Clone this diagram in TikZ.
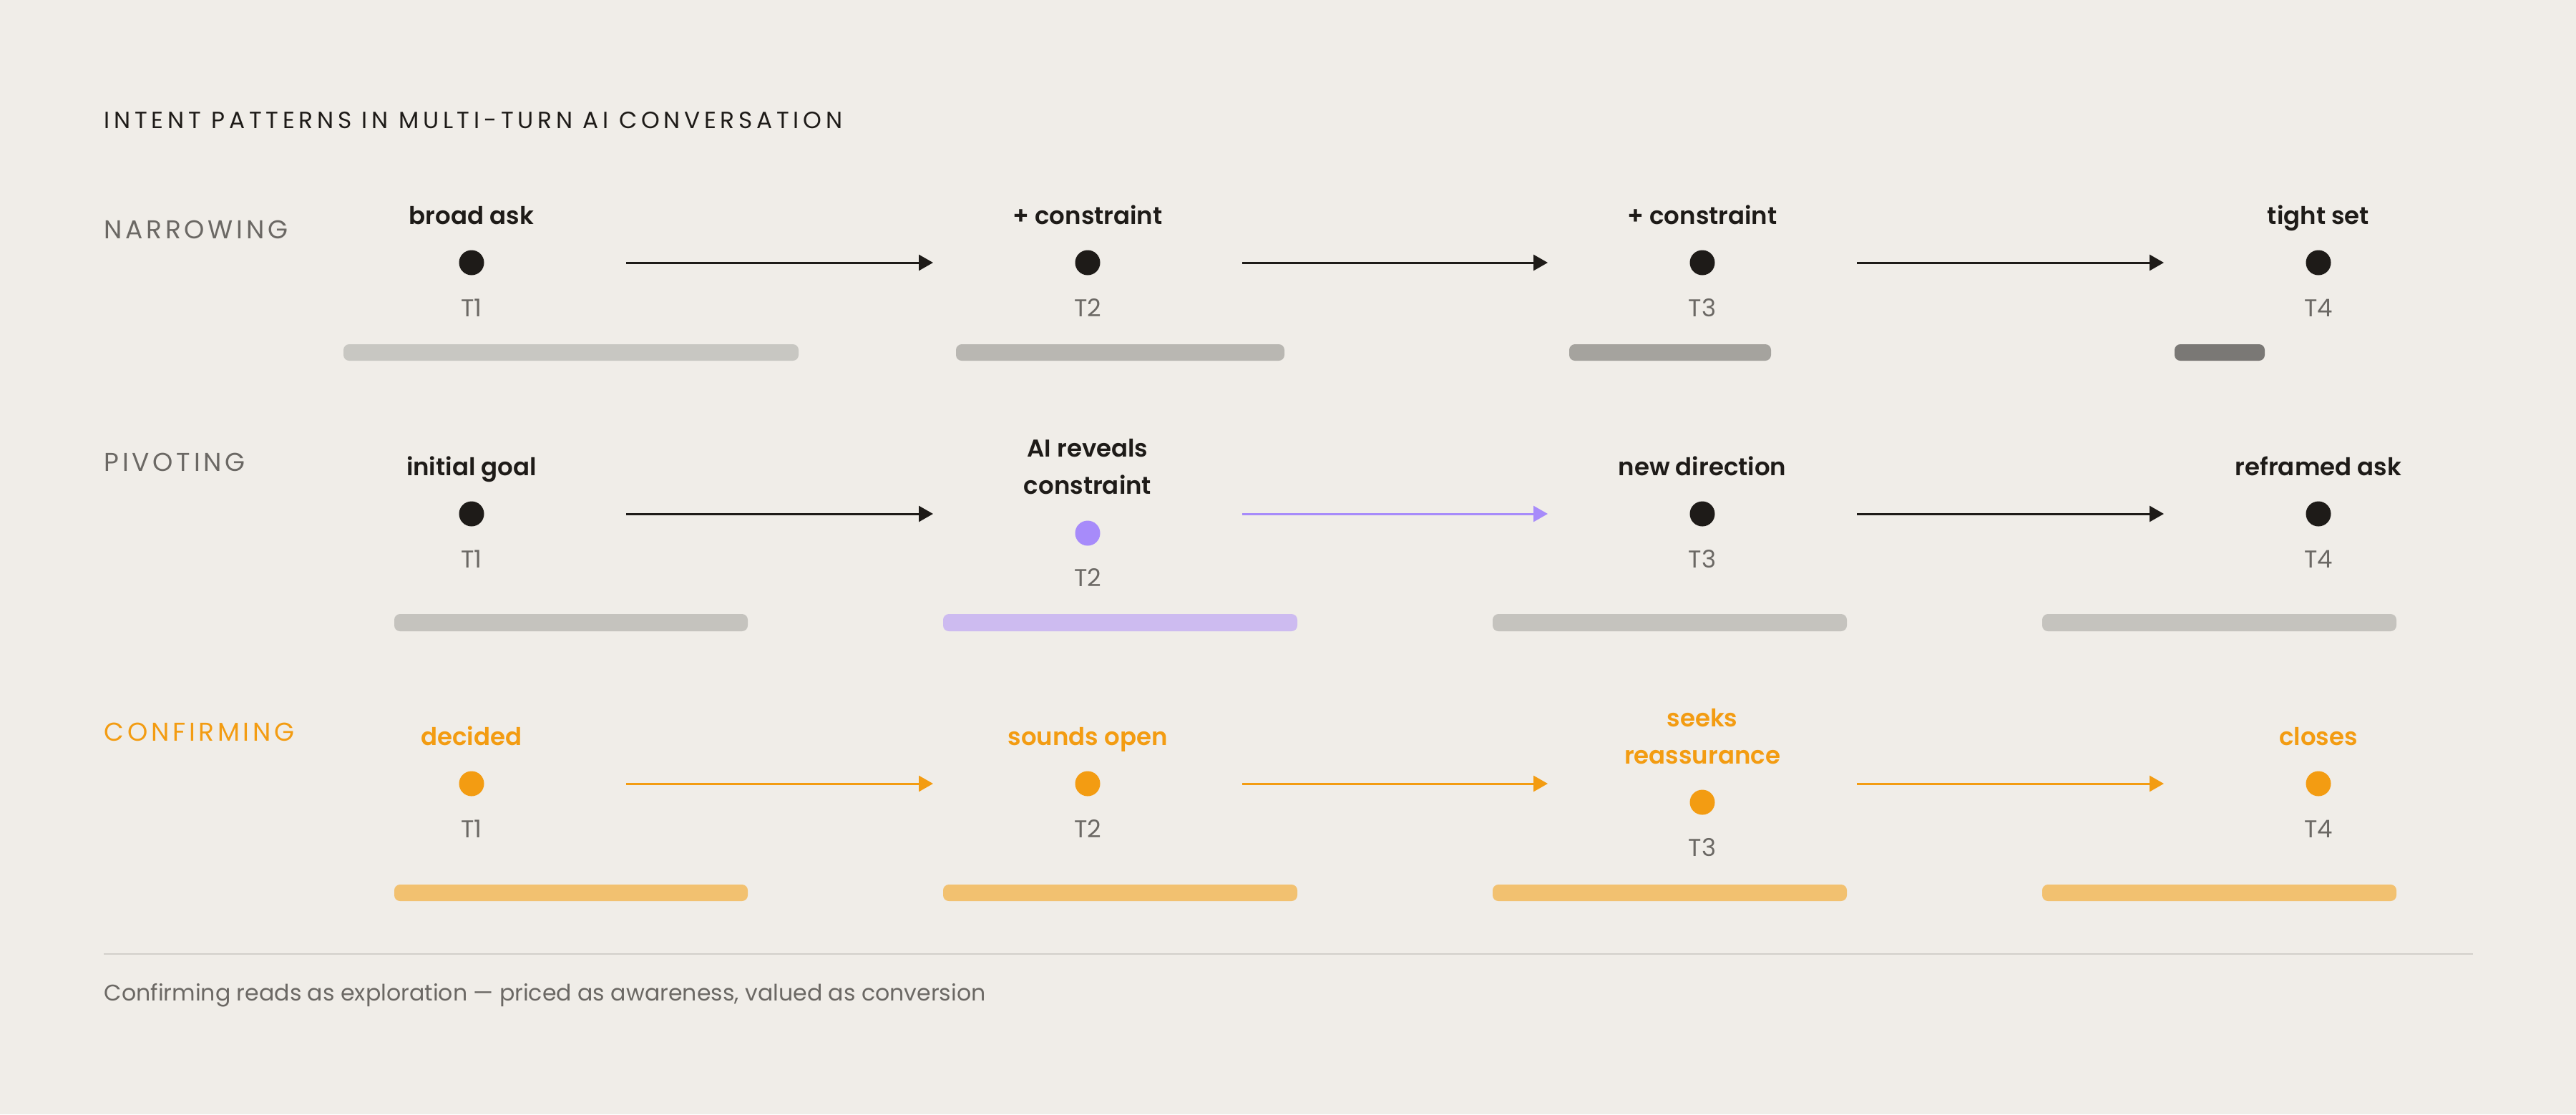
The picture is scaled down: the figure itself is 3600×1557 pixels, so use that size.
\documentclass[tikz,border=0pt]{standalone}
\usepackage{fontspec}
\setmainfont{Poppins}
\newfontfamily\semib{Poppins SemiBold}
\newfontfamily\trackf{Poppins}[LetterSpace=17.5]
\newfontfamily\rowf{Poppins}[LetterSpace=13]
\usetikzlibrary{arrows.meta}
\definecolor{bg}{HTML}{F0EDE8}
\definecolor{ink}{HTML}{1E1B18}
\definecolor{graytxt}{HTML}{6B6864}
\definecolor{orng}{HTML}{F39C12}
\definecolor{orngbar}{HTML}{F2C170}
\definecolor{purp}{HTML}{A78BFA}
\definecolor{purpbar}{HTML}{CDBBF0}
\definecolor{rulec}{HTML}{D2CFCA}
\definecolor{barA}{HTML}{C8C7C2}
\definecolor{barB}{HTML}{B9B7B2}
\definecolor{barC}{HTML}{A5A39E}
\definecolor{barD}{HTML}{7A7875}
\definecolor{barG}{HTML}{C5C3BE}
\begin{document}
\begin{tikzpicture}[x=0.25pt,y=-0.25pt,
  dot/.style={circle, fill=#1, inner sep=0pt, minimum size=8.75pt},
  lbl/.style={anchor=base, font=\semib\fontsize{8.5}{13}\selectfont, text=#1, align=center, inner sep=0pt},
  tlbl/.style={anchor=base, font=\fontsize{8.5}{11}\selectfont, text=graytxt, inner sep=0pt},
  rowlbl/.style={anchor=base west, font=\rowf\fontsize{9}{11}\selectfont, text=#1, inner sep=0pt},
  conn/.style={-{Triangle[length=5pt,width=5.5pt]}, line width=0.75pt, draw=#1, shorten <=54pt, shorten >=54pt},
  bar/.style={fill=#1, rounded corners=2pt}
]
\fill[bg] (0,0) rectangle (3600,1557);
\useasboundingbox (0,0) rectangle (3600,1557);

% title
\node[anchor=base west, font=\trackf\fontsize{8.2}{10}\selectfont, text=ink, inner sep=0pt] (title) at (145,179) {INTENT PATTERNS IN MULTI-TURN AI CONVERSATION};

% ---------- Row 1: narrowing
\node[rowlbl=graytxt] (rl1) at (145,333) {NARROWING};
\node[dot=ink] (a1) at (659,367) {};
\node[dot=ink] (a2) at (1520,367) {};
\node[dot=ink] (a3) at (2379,367) {};
\node[dot=ink] (a4) at (3240,367) {};
\node[lbl=ink] (la1) at (659,313) {broad ask};
\node[lbl=ink] (la2) at (1520,313) {+ constraint};
\node[lbl=ink] (la3) at (2379,313) {+ constraint};
\node[lbl=ink] (la4) at (3240,313) {tight set};
\node[tlbl] (ta1) at (659,442) {T1};
\node[tlbl] (ta2) at (1520,442) {T2};
\node[tlbl] (ta3) at (2379,442) {T3};
\node[tlbl] (ta4) at (3240,442) {T4};
\draw[conn=ink] (a1.center) -- (a2.center);
\draw[conn=ink] (a2.center) -- (a3.center);
\draw[conn=ink] (a3.center) -- (a4.center);
\fill[bar=barA] (480,481) rectangle (1116,504);
\fill[bar=barB] (1336,481) rectangle (1795,504);
\fill[bar=barC] (2193,481) rectangle (2475,504);
\fill[bar=barD] (3039,481) rectangle (3165,504);

% ---------- Row 2: pivoting
\node[rowlbl=graytxt] (rl2) at (145,658) {PIVOTING};
\node[dot=ink] (b1) at (659,718) {};
\node[dot=purp] (b2) at (1520,745) {};
\node[dot=ink] (b3) at (2379,718) {};
\node[dot=ink] (b4) at (3240,718) {};
\node[lbl=ink] (lb1) at (659,664) {initial goal};
\node[lbl=ink] (lb2) at (1520,690) {AI reveals\\constraint};
\node[lbl=ink] (lb3) at (2379,664) {new direction};
\node[lbl=ink] (lb4) at (3240,664) {reframed ask};
\node[tlbl] (tb1) at (659,793) {T1};
\node[tlbl] (tb2) at (1520,819) {T2};
\node[tlbl] (tb3) at (2379,793) {T3};
\node[tlbl] (tb4) at (3240,793) {T4};
\draw[conn=ink] (b1.center) -- (b1.center -| b2.center);
\draw[conn=purp] (b3.center -| b2.center) -- (b3.center);
\draw[conn=ink] (b3.center) -- (b4.center);
\fill[bar=barG] (551,858) rectangle (1045,882);
\fill[bar=purpbar] (1318,858) rectangle (1813,882);
\fill[bar=barG] (2086,858) rectangle (2581,882);
\fill[bar=barG] (2854,858) rectangle (3349,882);

% ---------- Row 3: confirming
\node[rowlbl=orng] (rl3) at (145,1035) {CONFIRMING};
\node[dot=orng] (c1) at (659,1095) {};
\node[dot=orng] (c2) at (1520,1095) {};
\node[dot=orng] (c3) at (2379,1121) {};
\node[dot=orng] (c4) at (3240,1095) {};
\node[lbl=orng] (lc1) at (659,1041) {decided};
\node[lbl=orng] (lc2) at (1520,1041) {sounds open};
\node[lbl=orng] (lc3) at (2379,1067) {seeks\\reassurance};
\node[lbl=orng] (lc4) at (3240,1041) {closes};
\node[tlbl] (tc1) at (659,1170) {T1};
\node[tlbl] (tc2) at (1520,1170) {T2};
\node[tlbl] (tc3) at (2379,1196) {T3};
\node[tlbl] (tc4) at (3240,1170) {T4};
\draw[conn=orng] (c1.center) -- (c2.center);
\draw[conn=orng] (c2.center) -- (c2.center -| c3.center);
\draw[conn=orng] (c4.center -| c3.center) -- (c4.center);
\fill[bar=orngbar] (551,1236) rectangle (1045,1259);
\fill[bar=orngbar] (1318,1236) rectangle (1813,1259);
\fill[bar=orngbar] (2086,1236) rectangle (2581,1259);
\fill[bar=orngbar] (2854,1236) rectangle (3349,1259);

% rule and footer
\coordinate (rs) at (145,1333);
\coordinate (re) at (3456,1333);
\draw[rulec, line width=0.7pt] (rs) -- (re);
\node[anchor=base west, font=\fontsize{7.9}{10}\selectfont, text=graytxt, inner sep=0pt] (foot) at (145,1398) {Confirming reads as exploration — priced as awareness, valued as conversion};
\end{tikzpicture}
\end{document}
